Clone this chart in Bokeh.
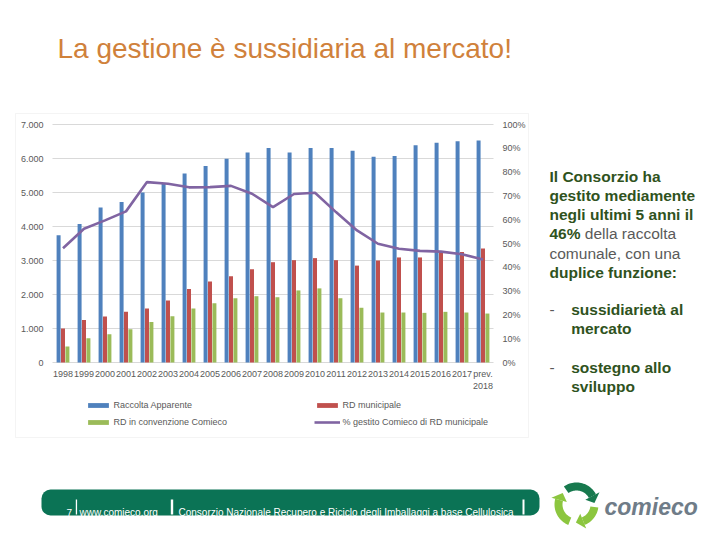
import numpy as np
from bokeh.plotting import figure
from bokeh.models import (Range1d, LinearAxis, FixedTicker, NumeralTickFormatter,
                          CustomJSTickFormatter, Legend, LegendItem, ColumnDataSource,
                          Label, BoxAnnotation, PolyAnnotation)
from bokeh.transform import dodge
from bokeh.embed import file_html
from bokeh.resources import INLINE

# ---------------- data ----------------
years = ["1998", "1999", "2000", "2001", "2002", "2003", "2004", "2005", "2006",
         "2007", "2008", "2009", "2010", "2011", "2012", "2013", "2014", "2015",
         "2016", "2017", "prev.\n2018"]
raccolta_apparente = [3740, 4070, 4560, 4720, 5000, 5260, 5560, 5780, 5990, 6180, 6310,
                      6180, 6310, 6310, 6230, 6050, 6070, 6390, 6460, 6510, 6530]
rd_municipale = [1000, 1250, 1350, 1490, 1590, 1820, 2160, 2380, 2540, 2740, 2950,
                 3010, 3070, 3010, 2850, 3000, 3090, 3090, 3280, 3250, 3350]
rd_convenzione = [470, 710, 830, 980, 1190, 1360, 1590, 1740, 1890, 1950, 1920,
                  2120, 2180, 1890, 1610, 1470, 1470, 1460, 1490, 1470, 1440]
pct_gestito = [0.480, 0.562, 0.597, 0.635, 0.758, 0.751, 0.736, 0.737, 0.742, 0.709, 0.653,
               0.708, 0.713, 0.632, 0.555, 0.499, 0.478, 0.469, 0.466, 0.455, 0.433]
series_names = ["Raccolta Apparente", "RD municipale", "RD in convenzione Comieco",
                "% gestito Comieco di RD municipale"]
left_ticks = [0, 1000, 2000, 3000, 4000, 5000, 6000, 7000]
right_ticks = [0.0, 0.1, 0.2, 0.3, 0.4, 0.5, 0.6, 0.7, 0.8, 0.9, 1.0]

BLUE, RED, GREEN, PURPLE = "#4F81BD", "#C0504D", "#9BBB59", "#8064A2"
AX = "#595959"
FONT = "Liberation Sans"

idx = list(range(len(years)))
src = ColumnDataSource(dict(i=idx, rac=raccolta_apparente, rdm=rd_municipale,
                            rdc=rd_convenzione, pct=pct_gestito))

# whole slide is one plot frame; chart area: x index -0.5..20.5, y 0..7000
W, H = 720, 540
PX_X = 21.0            # px per category
X0 = 62.5              # px of first category centre
PX_Y = 238.0 / 7000    # px per unit
Y0 = H - 362           # px from bottom of y = 0
x_range = Range1d(-X0 / PX_X, (W - X0) / PX_X)
y_range = Range1d(-Y0 / PX_Y, (H - Y0) / PX_Y)

p = figure(width=W, height=H, x_range=x_range, y_range=y_range,
           output_backend="svg", toolbar_location=None, min_border=0)
p.outline_line_color = None
p.extra_y_ranges = {"pct": Range1d(-Y0 / 238.0, (H - Y0) / 238.0)}

def sy(y):  # image y (from top) -> screen y (from bottom)
    return H - y

def sbox(l, r, t, b, **kw):
    return BoxAnnotation(left=l, right=r, top=sy(t), bottom=sy(b), left_units="screen",
                         right_units="screen", top_units="screen", bottom_units="screen",
                         level="underlay", **kw)

# chart box
p.add_layout(sbox(15, 528, 113, 437, fill_alpha=0, line_color="#D9D9D9", line_width=1))

bw = 0.19
r1 = p.vbar(x=dodge("i", -0.21), top="rac", width=bw, source=src,
            fill_color=BLUE, line_color=None)
r2 = p.vbar(x=dodge("i", 0.0), top="rdm", width=bw, source=src,
            fill_color=RED, line_color=None)
r3 = p.vbar(x=dodge("i", 0.21), top="rdc", width=bw, source=src,
            fill_color=GREEN, line_color=None)
rl = p.line(x="i", y="pct", y_range_name="pct", source=src, line_color=PURPLE,
            line_width=2.6)

lt = FixedTicker(ticks=left_ticks)
p.yaxis.ticker = lt
p.yaxis.fixed_location = -0.5
p.yaxis.bounds = (0, 7000)
p.yaxis.formatter = CustomJSTickFormatter(
    code="return tick.toFixed(0).replace(/\\B(?=(\\d{3})+(?!\\d))/g, '.');")
p.xaxis.ticker = FixedTicker(ticks=idx)
p.xaxis.fixed_location = 0
p.xaxis.bounds = (-0.5, len(years) - 0.5)
p.xaxis.major_label_overrides = {i: y for i, y in zip(idx, years)}
ax_r = LinearAxis(y_range_name="pct", ticker=FixedTicker(ticks=right_ticks),
                  formatter=NumeralTickFormatter(format="0%"),
                  fixed_location=len(years) - 0.5, bounds=(0, 1))
p.add_layout(ax_r, "right")
for ax in [p.xaxis[0], p.yaxis[0], ax_r]:
    ax.axis_line_color = None
    ax.major_tick_line_color = None
    ax.minor_tick_line_color = None
    ax.major_tick_out = 0
    ax.major_tick_in = 0
    ax.minor_tick_out = 0
    ax.major_label_text_font = FONT
    ax.major_label_text_font_size = "9px"
    ax.major_label_text_color = AX
p.yaxis[0].major_label_standoff = 9
ax_r.major_label_standoff = 9
p.xaxis[0].major_label_standoff = 6
p.xgrid.visible = False
p.ygrid.ticker = lt
p.ygrid.cross_bounds = (-0.5, len(years) - 0.5)
p.ygrid.grid_line_color = "#D9D9D9"

legend = Legend(items=[LegendItem(label=series_names[0], renderers=[r1]),
                       LegendItem(label=series_names[1], renderers=[r2]),
                       LegendItem(label=series_names[2], renderers=[r3]),
                       LegendItem(label=series_names[3], renderers=[rl])],
                location=(85.4, sy(427)), orientation="horizontal", ncols=2,
                glyph_width=26, glyph_height=6, label_height=9, label_width=194,
                spacing=7, padding=0, margin=0, border_line_color=None,
                background_fill_alpha=0, label_text_font=FONT,
                label_text_font_size="9px", label_standoff=2, label_text_color=AX)
p.add_layout(legend, "center")

def lab(x, y, text, size, color, style="normal"):
    return Label(x=x, y=sy(y), x_units="screen", y_units="screen", text=text,
                 text_font_size=size, text_color=color, text_font_style=style,
                 text_font=FONT, text_baseline="alphabetic", text_align="left")

# slide title
p.add_layout(lab(57, 48, "La gestione è sussidiaria al mercato!", "28px", "#D0813B"))

# right text
DG, GR = "#2F5220", "#5A5A5A"
tx, bx, fs = 549, 570.7, "15.5px"
p.add_layout(lab(tx, 176, "Il Consorzio ha", fs, DG, "bold"))
p.add_layout(lab(tx, 195, "gestito mediamente", fs, DG, "bold"))
p.add_layout(lab(tx, 214, "negli ultimi 5 anni il", fs, DG, "bold"))
p.add_layout(lab(tx, 233.3, "46%", fs, DG, "bold"))
p.add_layout(lab(tx + 35.3, 233.3, "della raccolta", fs, GR))
p.add_layout(lab(tx, 252.7, "comunale, con una", fs, GR))
p.add_layout(lab(tx, 272, "duplice funzione:", fs, DG, "bold"))
p.add_layout(lab(tx, 309, "-", fs, GR))
p.add_layout(lab(bx, 309, "sussidiarietà al", fs, DG, "bold"))
p.add_layout(lab(bx, 327.7, "mercato", fs, DG, "bold"))
p.add_layout(lab(tx, 367.3, "-", fs, GR))
p.add_layout(lab(bx, 367.3, "sostegno allo", fs, DG, "bold"))
p.add_layout(lab(bx, 385.7, "sviluppo", fs, DG, "bold"))

# footer bar
p.add_layout(sbox(41, 539, 489, 515, fill_color="#0B7355", fill_alpha=1, line_color=None,
                  border_radius=9))
for l, w in [(75.3, 1.3), (170.3, 2.4), (522, 2)]:
    p.add_layout(sbox(l, l + w, 499, 514, fill_color="white", fill_alpha=1, line_color=None))
p.add_layout(lab(66, 512, "7", "10px", "white"))
p.add_layout(lab(79, 512, "www.comieco.org", "10px", "white"))
p.add_layout(lab(178, 512, "Consorzio Nazionale Recupero e Riciclo degli Imballaggi a base Cellulosica",
                 "10px", "white"))

# logo
cx, cy, R, r = 576, sy(504), 22, 14
def arrow(a0, a1, tip, color):
    a = np.radians(np.linspace(a0, a1, 30))
    xs = list(cx + R * np.cos(a)) + list(cx + r * np.cos(a[::-1]))
    ys = list(cy + R * np.sin(a)) + list(cy + r * np.sin(a[::-1]))
    p.add_layout(PolyAnnotation(xs=xs, ys=ys, xs_units="screen", ys_units="screen",
                                fill_color=color, fill_alpha=1, line_color=None))
    e, t, m = np.radians(a1), np.radians(tip), (R + r) / 2
    hx = [cx + (r - 4) * np.cos(e), cx + (R + 4) * np.cos(e), cx + m * np.cos(t)]
    hy = [cy + (r - 4) * np.sin(e), cy + (R + 4) * np.sin(e), cy + m * np.sin(t)]
    p.add_layout(PolyAnnotation(xs=hx, ys=hy, xs_units="screen", ys_units="screen",
                                fill_color=color, fill_alpha=1, line_color=None))
arrow(125, 28, 5, "#17794E")
arrow(352, 292, 268, "#8CC63F")
arrow(248, 165, 140, "#8CC63F")
p.add_layout(lab(604, 506, "comieco", "23px", "#6F7C88", "bold italic"))

open("out.html", "w").write(file_html(p, INLINE))
